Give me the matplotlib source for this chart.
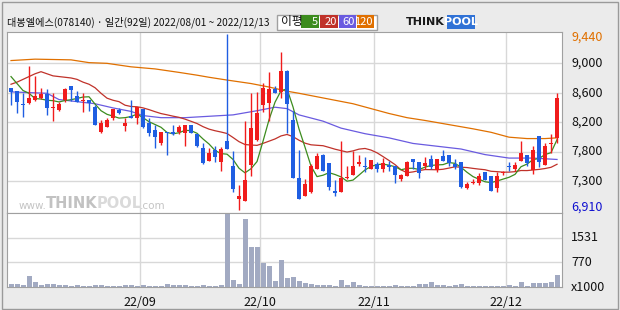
import matplotlib
matplotlib.use('Agg')
import matplotlib.pyplot as plt
import numpy as np
import pandas as pd
from matplotlib.patches import Rectangle

plt.rcParams['font.family'] = ['Noto Sans CJK KR', 'DejaVu Sans']

# --- data ---
title = '대봉엘에스(078140) · 일간(92일) 2022/08/01 ~ 2022/12/13'

opens = [8660, 8620, 8430, 8450, 8500, 8520, 8580, 8380, 8350, 8500,
         8690, 8550, 8480, 8490, 8390, 8040, 8110, 8230, 8350, 8120,
         8260, 8230, 8370, 8170, 8060, 7870, 8040, 8040, 8040, 8020,
         8130, 8010, 7810, 7620, 7770, 7610, 7900, 7540, 7070, 7040,
         7560, 7920, 8420, 8450, 8650, 8610, 8910, 8200, 7380, 7120,
         7170, 7510, 7700, 7590, 7190, 7170, 7370, 7420, 7570, 7540,
         7500, 7580, 7500, 7560, 7540, 7360, 7400, 7640, 7610, 7550,
         7640, 7490, 7690, 7700, 7570, 7600, 7230, 7300, 7300, 7460,
         7400, 7230, 7440, 7540, 7510, 7620, 7710, 7490, 7970, 7560,
         7860, 7950]
highs = [8670, 8620, 8600, 8980, 8840, 8660, 8650, 8600, 8470, 8670,
         8690, 8620, 8600, 8490, 8420, 8200, 8240, 8360, 8380, 8240,
         8500, 8400, 8370, 8230, 8130, 8040, 8040, 8130, 8130, 8130,
         8130, 8010, 7870, 7800, 7840, 7820, 9440, 7760, 7280, 8190,
         8600, 8610, 8740, 8890, 8690, 9180, 8920, 8330, 7770, 7360,
         7580, 7740, 7720, 7590, 7340, 7900, 7550, 7760, 7700, 7670,
         7630, 7600, 7660, 7620, 7540, 7430, 7620, 7640, 7610, 7670,
         7700, 7650, 7770, 7700, 7650, 7600, 7310, 7360, 7440, 7460,
         7400, 7460, 7480, 7600, 7610, 7900, 7710, 7840, 7980, 7870,
         8010, 8590]
lows = [8420, 8300, 8250, 8430, 8480, 8510, 8280, 8190, 8340, 8470,
        8480, 8470, 8320, 8340, 8130, 8020, 8100, 8200, 8290, 8050,
        8240, 8150, 8090, 7970, 7800, 7850, 7710, 7990, 8010, 7840,
        8020, 7820, 7580, 7620, 7610, 7480, 7790, 7170, 6910, 7040,
        7400, 7910, 8320, 8190, 8600, 8520, 8020, 7370, 7070, 7120,
        7160, 7510, 7470, 7200, 7110, 7170, 7360, 7420, 7540, 7460,
        7500, 7460, 7460, 7480, 7300, 7330, 7400, 7510, 7380, 7500,
        7500, 7460, 7620, 7550, 7500, 7230, 7210, 7290, 7280, 7340,
        7190, 7170, 7410, 7470, 7480, 7620, 7550, 7430, 7530, 7560,
        7730, 7870]
closes = [8610, 8470, 8420, 8520, 8550, 8580, 8380, 8390, 8430, 8650,
          8640, 8470, 8490, 8450, 8130, 8160, 8210, 8360, 8310, 8160,
          8240, 8390, 8100, 8020, 7960, 8040, 8020, 8000, 8100, 8130,
          8020, 7830, 7590, 7740, 7670, 7790, 7790, 7210, 7110, 7340,
          8090, 8300, 8670, 8650, 8600, 8910, 8440, 7370, 7070, 7290,
          7550, 7690, 7470, 7250, 7160, 7380, 7380, 7550, 7610, 7530,
          7630, 7510, 7590, 7530, 7420, 7410, 7610, 7600, 7440, 7590,
          7530, 7650, 7620, 7590, 7530, 7250, 7290, 7310, 7400, 7350,
          7190, 7400, 7450, 7530, 7560, 7740, 7590, 7770, 7610, 7840,
          7880, 8520]
# volume in thousands of shares
volumes = [95, 95, 65, 350, 170, 70, 100, 100, 70, 70,
           50, 70, 50, 50, 60, 60, 50, 50, 50, 60,
           60, 50, 60, 50, 50, 50, 100, 70, 70, 70,
           50, 50, 60, 50, 50, 70, 2260, 226, 100, 2100,
           1240, 1240, 760, 660, 200, 840, 290, 320, 200, 130,
           90, 70, 70, 70, 45, 226, 70, 165, 70, 45,
           40, 40, 40, 40, 70, 45, 40, 40, 100, 100,
           165, 70, 70, 50, 70, 100, 50, 50, 40, 40,
           40, 40, 40, 70, 40, 165, 40, 130, 130, 130,
           165, 380]

# moving averages: the start of the 5/20 lines needs days before the window
ma5_head = [8830, 8730, 8630, 8590]
ma20_head = [8720, 8750, 8790, 8830, 8870, 8900, 8870, 8840, 8830, 8820,
             8810, 8790, 8750, 8720, 8670, 8590, 8520, 8490, 8470]
ma60_idx = [0, 6, 8, 14, 17, 20, 22, 25, 29, 33, 37, 41, 44, 46, 48, 52,
            55, 59, 63, 67, 71, 75, 79, 83, 87, 91]
ma60_vals = [8610, 8590, 8500, 8440, 8380, 8330, 8270, 8240, 8240, 8260,
             8280, 8340, 8390, 8370, 8280, 8190, 8090, 8010, 7950, 7870,
             7830, 7790, 7710, 7660, 7660, 7640]
ma120_idx = [0, 4, 10, 13, 16, 20, 24, 28, 31, 33, 36, 40, 43, 46, 48, 51,
             54, 57, 60, 63, 66, 69, 73, 77, 80, 83, 86, 89, 91]
ma120_vals = [9060, 9080, 9070, 9030, 9020, 8970, 8940, 8890, 8850, 8820,
              8780, 8730, 8680, 8620, 8590, 8540, 8490, 8440, 8370, 8300,
              8240, 8200, 8140, 8080, 8030, 7960, 7940, 7940, 7950]

month_first = [22, 42, 61, 83]
month_labels = ['22/09', '22/10', '22/11', '22/12']
price_max, price_min = 9440, 6910
vol_ticks = [770, 1531]

RED = '#f01c1c'
BLUE = '#1f5ee2'
C5, C20, C60, C120 = '#3c8c1e', '#c0322a', '#6a5be0', '#e07000'
GRID = '#d8d8d8'
FRAME = '#a0a0a0'

W, H = 620, 310


def fx(x):
    return x / W


def fy(y):
    return 1 - y / H


fig = plt.figure(figsize=(6.2, 3.1), dpi=100)
fig.patch.set_facecolor('#ebebeb')
fig.add_artist(Rectangle((fx(1.5), fy(308.5)), fx(616), 307 / H, transform=fig.transFigure,
                         fill=False, edgecolor='#9a9a9a', lw=1))

ax = fig.add_axes([fx(7), fy(212.7), fx(555), 181 / H])
axv = fig.add_axes([fx(7), fy(287.3), fx(555), 74.6 / H])

n = len(closes)
x = np.arange(n)
o = np.array(opens)
c = np.array(closes)
up = c >= o
colors = np.where(up, RED, BLUE)

# price axis scale: 6910..9440 with a little padding, grid at sixths
span = price_max - price_min
pad = span * 0.0135
ax.set_ylim(price_min - pad, price_max + pad)
grid_vals = [price_min + span * k / 6 for k in range(1, 6)]
for g in grid_vals:
    ax.axhline(g, color=GRID, lw=1, zorder=0)
for m in month_first:
    ax.axvline(m - 0.5, color=GRID, lw=1, zorder=0)
    axv.axvline(m - 0.5, color=GRID, lw=1, zorder=0)

# moving averages
cs = pd.Series(closes)
ma5 = cs.rolling(5).mean().to_numpy()
ma5[:4] = ma5_head
ma20 = cs.rolling(20).mean().to_numpy()
ma20[:19] = ma20_head
ax.plot(ma120_idx, ma120_vals, color=C120, lw=0.9, zorder=1)
ax.plot(ma60_idx, ma60_vals, color=C60, lw=0.9, zorder=1)
ax.plot(x, ma20, color=C20, lw=0.9, zorder=1)
ax.plot(x, ma5, color=C5, lw=0.9, zorder=1)

# candles
ax.vlines(x, lows, highs, colors=colors, lw=1, zorder=2)
body = np.maximum(np.abs(c - o), 18)
ax.bar(x, body, bottom=np.minimum(o, c), width=0.8, color=colors, zorder=3)

ax.set_xlim(-0.67, 91.83)
ax.set_xticks([])
ax.set_yticks([])
for s in ax.spines.values():
    s.set_color(FRAME)

# price labels on the right
lab_kw = dict(xycoords=('axes fraction', 'data'), textcoords='offset points',
              ha='left', va='center', fontsize=9, annotation_clip=False)
ax.annotate(f'{price_max:,}', (1, price_max), xytext=(6.5, -2.5), color=C120, **lab_kw)
for g in grid_vals:
    ax.annotate(f'{int(round(g, -2)):,}', (1, g), xytext=(6.5, 0), color='#111111', **lab_kw)
ax.annotate(f'{price_min:,}', (1, price_min), xytext=(6.5, 2), color='#1010d0', **lab_kw)

# watermark
wm = dict(transform=fig.transFigure, va='center', family='DejaVu Sans', zorder=0)
ax.text(fx(46), fy(206), 'www.', fontsize=7.5, color='#c4c4c4', ha='right', **wm)
ax.text(fx(97), fy(203.5), 'THINK', fontsize=10.5, color='#c2c2c2', fontweight='bold', ha='right', **wm)
ax.text(fx(97), fy(203.5), 'POOL', fontsize=10.5, color='#dadada', fontweight='bold', ha='left', **wm)
ax.text(fx(140), fy(206), '.com', fontsize=7.5, color='#c4c4c4', ha='left', **wm)

# volume panel
axv.bar(x, volumes, width=0.83, color='#a2aac2', zorder=2)
axv.set_ylim(0, 2297)
axv.set_xlim(-0.67, 91.83)
for v in vol_ticks:
    axv.axhline(v, color=GRID, lw=1, zorder=0)
    axv.annotate(str(v), (1, v), xytext=(6.5, 0), color='#111111', **lab_kw)
axv.annotate('x1000', (1, 0), xytext=(6.5, 0), color='#111111', **lab_kw)
axv.set_yticks([])
axv.set_xticks([m - 0.5 for m in month_first])
axv.set_xticklabels(month_labels, fontsize=9, color='#111111')
axv.tick_params(axis='x', length=0, pad=6)
for s in axv.spines.values():
    s.set_color(FRAME)

# title
fig.text(fx(7), fy(22.5), title, fontsize=7.3, color='#111111', va='center', ha='left')

# MA legend box
fig.add_artist(Rectangle((fx(276.5), fy(29.5)), fx(100.5), 15 / H, transform=fig.transFigure,
                         facecolor='white', edgecolor='#a0a0a0', lw=1))
fig.text(fx(281), fy(22), '이평', fontsize=8.5, color='#111111', va='center', ha='left')
legend_items = [('5', C5, 301, 319), ('20', C20, 320, 338), ('60', C60, 339, 356), ('120', C120, 357, 374)]
for lab, col, x0, x1 in legend_items:
    fig.add_artist(Rectangle((fx(x0), fy(28.3)), fx(x1 - x0), 13.3 / H, transform=fig.transFigure,
                             facecolor=col, edgecolor='none'))
    fig.text(fx(x1 - 1), fy(22), lab, fontsize=8, color='white', va='center', ha='right')

# logo
fig.text(fx(406), fy(22), 'THINK', fontsize=8, fontweight='bold', color='#1a1a1a',
         va='center', ha='left', family='DejaVu Sans')
fig.add_artist(Rectangle((fx(447), fy(28.5)), fx(28), 13.5 / H, transform=fig.transFigure,
                         facecolor='#3072d6', edgecolor='none'))
fig.text(fx(461), fy(22), 'POOL', fontsize=8, fontweight='bold', color='white',
         va='center', ha='center', family='DejaVu Sans')

fig.savefig('out.png', dpi=100, facecolor=fig.get_facecolor())
